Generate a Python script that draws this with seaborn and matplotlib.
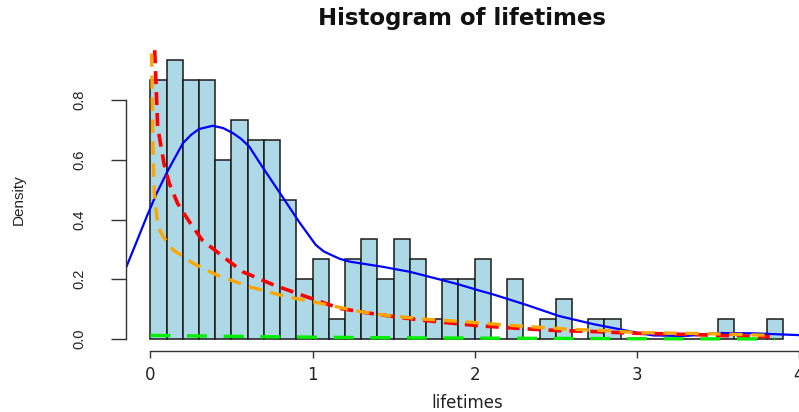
import numpy as np
import pandas as pd
import matplotlib
matplotlib.use("Agg")
import matplotlib.pyplot as plt
import seaborn as sns

# ---- data ----
bin_width = 0.1
bin_mids = [0.05, 0.15, 0.25, 0.35, 0.45, 0.55, 0.65, 0.75, 0.85, 0.95,
            1.05, 1.15, 1.25, 1.35, 1.45, 1.55, 1.65, 1.75, 1.85, 1.95,
            2.05, 2.15, 2.25, 2.35, 2.45, 2.55, 2.65, 2.75, 2.85, 2.95,
            3.05, 3.15, 3.25, 3.35, 3.45, 3.55, 3.65, 3.75, 3.85]
counts = [13, 14, 13, 13, 9, 11, 10, 10, 7, 3,
          4, 1, 4, 5, 3, 5, 4, 1, 3, 3,
          4, 0, 3, 0, 1, 2, 0, 1, 1, 0,
          0, 0, 0, 0, 0, 1, 0, 0, 1]

blue_x = [-0.155, -0.089, -0.023, 0.039, 0.11, 0.2, 0.25, 0.3, 0.385, 0.45,
          0.51, 0.56, 0.61, 0.69, 0.80, 0.92, 1.02, 1.07, 1.125, 1.17,
          1.23, 1.43, 1.6, 1.78, 1.9, 2.03, 2.11, 2.32, 2.52, 2.73,
          2.9, 3.02, 3.1, 3.3, 3.51, 3.72, 4.0]
blue_y = [0.232, 0.32, 0.409, 0.488, 0.566, 0.655, 0.683, 0.703, 0.714, 0.706,
          0.689, 0.67, 0.644, 0.577, 0.488, 0.39, 0.315, 0.293, 0.279, 0.268,
          0.259, 0.242, 0.225, 0.2, 0.183, 0.162, 0.150, 0.114, 0.077, 0.05,
          0.032, 0.019, 0.012, 0.010, 0.020, 0.019, 0.013]

red_x = [0.027, 0.045, 0.066, 0.086, 0.117, 0.168, 0.24, 0.32, 0.45, 0.57,
         0.76, 0.96, 1.165, 1.33, 1.5, 1.66, 1.82, 2.03, 2.32, 2.52,
         2.73, 3.0, 3.2, 3.57, 3.82]
red_y = [0.967, 0.711, 0.644, 0.582, 0.521, 0.454, 0.393, 0.331, 0.275, 0.225,
         0.181, 0.142, 0.103, 0.088, 0.075, 0.064, 0.055, 0.044, 0.034, 0.028,
         0.025, 0.019, 0.017, 0.011, 0.008]

orange_x = [0.007, 0.013, 0.016, 0.02, 0.027, 0.048, 0.08, 0.141, 0.265, 0.41,
            0.61, 0.837, 1.0, 1.29, 1.47, 1.70, 1.93, 2.19, 2.4, 2.6,
            2.81, 3.02, 3.3, 3.51, 3.76, 3.83]
orange_y = [0.956, 0.778, 0.666, 0.555, 0.465, 0.376, 0.342, 0.298, 0.253, 0.214,
            0.175, 0.142, 0.125, 0.092, 0.078, 0.066, 0.058, 0.047, 0.039, 0.032,
            0.028, 0.021, 0.019, 0.017, 0.013, 0.012]

green_x = [0.0, 0.5, 1.0, 1.5, 2.0, 2.5, 3.0, 3.5, 3.85]
green_y = [0.012, 0.009, 0.006, 0.004, 0.003, 0.002, 0.001, 0.0005, 0.0003]

x_ticks = [0, 1, 2, 3, 4]
y_ticks = [0.0, 0.2, 0.4, 0.6, 0.8]
y_tick_labels = ["0.0", "0.2", "0.4", "0.6", "0.8"]

# ---- figure ----
sns.set_theme(style="white")
plt.rcParams['font.family'] = ['DejaVu Sans']

W, H = 799, 412
fig = plt.figure(figsize=(W / 100, H / 100), dpi=100)
ax_l, ax_r, ax_t, ax_b = 125.7, 799.0, 49.0, 350.5
ax = fig.add_axes([ax_l / W, (H - ax_b) / H, (ax_r - ax_l) / W, (ax_b - ax_t) / H])

hist_df = pd.DataFrame({"lifetimes": bin_mids, "n": counts})
sns.histplot(data=hist_df, x="lifetimes", weights="n", binwidth=bin_width,
             binrange=(0.0, 3.9), stat="density",
             color="#ADD8E6", edgecolor="#1a1a1a", linewidth=1.1, alpha=1.0, ax=ax)

sns.lineplot(x=blue_x, y=blue_y, color="#0000FF", linewidth=1.6, sort=False,
             estimator=None, ax=ax)
sns.lineplot(x=red_x, y=red_y, color="#FF0000", linewidth=2.6, sort=False,
             estimator=None, linestyle=(0, (3.6, 2.2)), ax=ax)
sns.lineplot(x=orange_x, y=orange_y, color="#FFA500", linewidth=2.4, sort=False,
             estimator=None, linestyle=(0, (4.0, 2.6)), ax=ax)
sns.lineplot(x=green_x, y=green_y, color="#00EE00", linewidth=2.4, sort=False,
             estimator=None, linestyle=(0, (6.0, 5.0)), ax=ax)

ax.set_xlim(-0.152, 4.0)
ax.set_ylim(-0.0385, 0.971)

ax.set_xticks(x_ticks)
ax.set_xticklabels([str(v) for v in x_ticks], fontsize=12)
ax.set_yticks(y_ticks)
ax.set_yticklabels(y_tick_labels, fontsize=10.5, family=['Liberation Sans', 'DejaVu Sans'],
                   rotation=90, va='center')

for s in ["top", "right"]:
    ax.spines[s].set_visible(False)
for s in ["left", "bottom"]:
    ax.spines[s].set_color("#333333")
    ax.spines[s].set_linewidth(1.0)
ax.spines["left"].set_bounds(0, 0.8)
ax.spines["bottom"].set_bounds(0, 4)

ax.tick_params(axis="x", direction="out", length=5.3, width=1.0, color="#333333",
               pad=5.5, labelcolor="#222222", bottom=True)
ax.tick_params(axis="y", direction="out", length=10.6, width=1.0, color="#333333",
               pad=18, labelcolor="#222222", left=True)

ax.set_xlabel("lifetimes", fontsize=12, color="#222222")
ax.xaxis.set_label_coords((467 - ax_l) / (ax_r - ax_l), -(394 - ax_b) / (ax_b - ax_t))
ax.set_ylabel("Density", fontsize=11, family=['Liberation Sans', 'DejaVu Sans'],
              color="#222222")
ax.yaxis.set_label_coords((26 - ax_l) / (ax_r - ax_l), 0.5)

ax.set_title("Histogram of lifetimes", fontsize=16.5, fontweight="bold", color="#111111",
             x=(462 - ax_l) / (ax_r - ax_l), y=(ax_b - 24.5) / (ax_b - ax_t), pad=0)

ax.grid(False)
fig.savefig("out.png", dpi=100)
